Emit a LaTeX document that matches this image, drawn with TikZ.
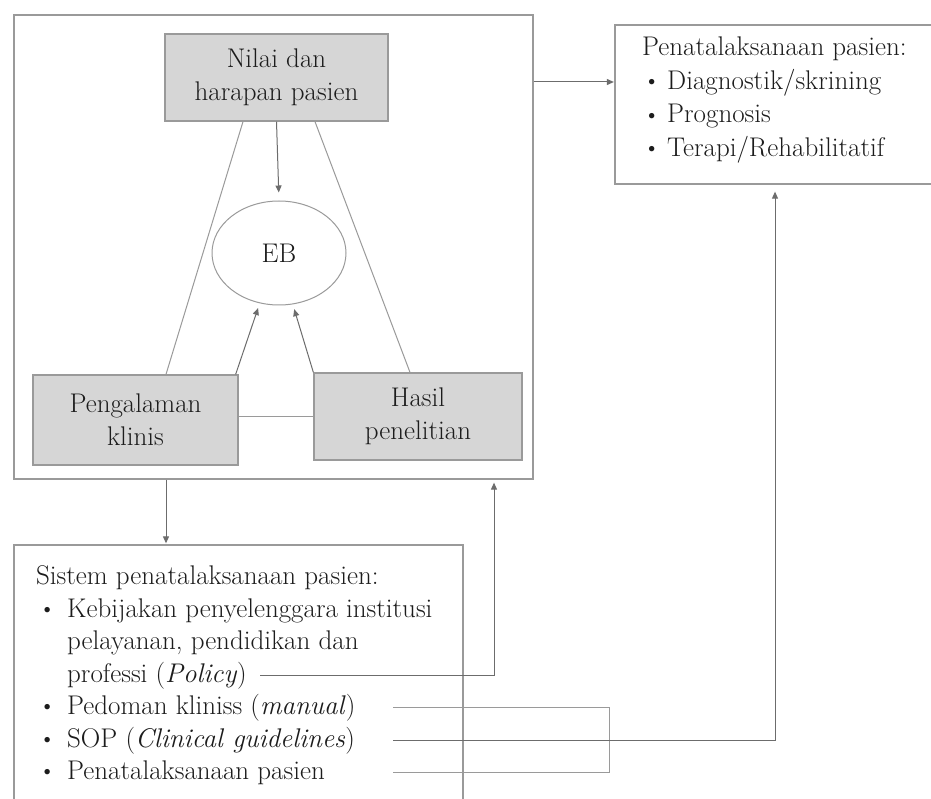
\documentclass[tikz,border=0pt]{standalone}
\usetikzlibrary{arrows.meta,shapes.geometric}
\definecolor{boxfill}{HTML}{D6D6D6}
\definecolor{edge}{HTML}{9A9A9A}
\definecolor{ink}{HTML}{1C1C1C}
% bullet: #1 = space before it, #2 = indent of the item text
\newcommand\bul[2]{\makebox[#2][l]{\hspace{#1}\raisebox{0.8pt}{\fontsize{24}{24}\selectfont\textbullet}}}
\begin{document}
\begin{tikzpicture}[x=1pt,y=-1pt,
  every node/.style={text=ink, font=\fontsize{27}{33}\selectfont},
  frame/.style={draw=edge, line width=1.3pt, inner sep=0pt},
  greybox/.style={frame, fill=boxfill, align=center},
  link/.style={draw=edge, line width=1pt},
  arr/.style={link, -{Triangle[length=7pt,width=6pt]}, draw=edge!70!black}]
\useasboundingbox (0,0) rectangle (931,799);
\clip (0,0) rectangle (931,799);
\fill[white] (0,0) rectangle (931,799);

% outer frame of the evidence-based core
\node[frame, minimum width=519pt, minimum height=464pt] (outer) at (273.5,247) {};

% the three sources and EB
\node[greybox, minimum width=223pt, minimum height=87pt] (nilai) at (276.5,77.5) {Nilai dan\\harapan pasien};
\node[draw=edge, line width=1pt, ellipse, minimum width=134pt, minimum height=104pt, inner sep=0pt] (eb) at (279,253) {EB};
\node[greybox, minimum width=205pt, minimum height=90pt] (peng) at (135.5,420) {Pengalaman\\klinis};
\node[greybox, minimum width=208pt, minimum height=87pt] (hasil) at (418,416.5) {Hasil\\penelitian};

\draw[link] ([xshift=-33.5pt]nilai.south) -- ([xshift=30.5pt]peng.north);
\draw[link] ([xshift=38.5pt]nilai.south) -- ([xshift=-8pt]hasil.north);
\draw[arr, shorten >=8pt] (nilai.south) -- (eb.north);
\draw[arr, shorten >=5pt] ([xshift=-3pt]peng.north east) -- (eb.249);
\draw[arr, shorten >=5pt] (hasil.north west) -- (eb.285);
\draw[link] (hasil.west -| peng.east) -- (hasil.west);

% patient management box (right)
\node[frame, minimum width=345pt, minimum height=159pt] (mgmt) at (787.5,104.5) {};
\node[anchor=north west, align=left, inner sep=0pt,
      font=\fontsize{27}{33.5}\selectfont] (mgmttxt) at (642,37) {%
  Penatalaksanaan pasien:\\
  \bul{1pt}{25pt}Diagnostik/skrining\\
  \bul{1pt}{25pt}Prognosis\\
  \bul{1pt}{25pt}Terapi/Rehabilitatif};
\draw[arr, shorten >=0.5pt] ([yshift=22.5pt]mgmt.west -| outer.east) -- ([yshift=22.5pt]mgmt.west);

% system of patient management (bottom)
\node[frame, minimum width=449pt, minimum height=290pt] (sistem) at (238.5,690) {};
\node[anchor=north west, align=left, inner sep=0pt,
      font=\fontsize{27}{32.5}\selectfont] (sistxt) at (36,565.5) {%
  Sistem penatalaksanaan pasien:\\
  \bul{2.5pt}{31pt}Kebijakan penyelenggara institusi\\
  \hspace{31pt}pelayanan, pendidikan dan\\
  \hspace{31pt}professi (\textit{Policy})\\
  \bul{2.5pt}{31pt}Pedoman kliniss (\textit{manual})\\
  \bul{2.5pt}{31pt}SOP (\textit{Clinical guidelines})\\
  \bul{2.5pt}{31pt}Penatalaksanaan pasien};

\draw[arr, shorten >=1pt] ([xshift=-107.5pt]outer.south) -- ([xshift=-107.5pt]outer.south |- sistem.north);

% feedback connectors from the list items
\coordinate (polend) at (260,675);
\coordinate (pedend) at (393,707);
\coordinate (sopend) at (393,740);
\coordinate (penend) at (393,772);
\coordinate (brk) at (609,740);
\draw[arr, shorten >=3pt] (polend) -| ([xshift=220.5pt]outer.south);
\draw[link] (pedend) -| (brk);
\draw[link] (penend) -| (brk);
\draw[arr, shorten >=7pt] (sopend) -| ([xshift=-12.5pt]mgmt.south);
\end{tikzpicture}
\end{document}
